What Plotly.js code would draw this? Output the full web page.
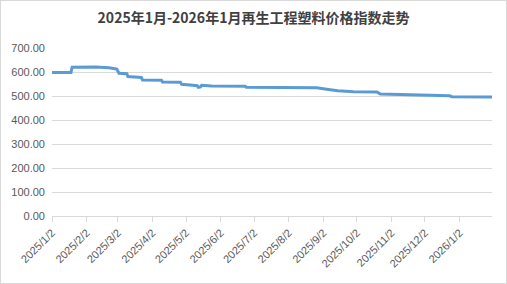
<!DOCTYPE html>
<html>
<head>
<meta charset="utf-8">
<script src="https://cdn.plot.ly/plotly-3.0.1.min.js"></script>
<style>
html,body{margin:0;padding:0;background:#fff;}
#chart{width:507px;height:284px;box-sizing:border-box;border:1px solid #D9D9D9;}
</style>
</head>
<body>
<div id="chart"></div>
<script>
const dates = ['2025-01-02','2025-01-19','2025-01-20','2025-02-10','2025-02-22','2025-02-28','2025-03-01','2025-03-03','2025-03-10','2025-03-11','2025-03-23','2025-03-24','2025-04-10','2025-04-11','2025-04-27','2025-04-28','2025-05-07','2025-05-08','2025-05-12','2025-05-13','2025-05-15','2025-05-16','2025-05-25','2025-06-24','2025-06-25','2025-08-27','2025-09-05','2025-09-15','2025-09-29','2025-10-20','2025-10-23','2025-11-10','2025-11-12','2025-12-24','2025-12-26','2026-01-31'];
const values = [598,598,620,621,618,613,612,595,593,581,577,567,566,558,557,549,548,545,543,536,538,545,542,541,536,534,528,522,518,517,508,506,503,501,497,496];
const tickDates = ['2025-01-02','2025-02-02','2025-03-02','2025-04-02','2025-05-02','2025-06-02','2025-07-02','2025-08-02','2025-09-02','2025-10-02','2025-11-02','2025-12-02','2026-01-02'];
const tickLabels = ['2025/1/2','2025/2/2','2025/3/2','2025/4/2','2025/5/2','2025/6/2','2025/7/2','2025/8/2','2025/9/2','2025/10/2','2025/11/2','2025/12/2','2026/1/2'];
const yTicks = [0,100,200,300,400,500,600,700];
const yLabels = ['0.00','100.00','200.00','300.00','400.00','500.00','600.00','700.00'];

const trace = {
  x: dates, y: values, type: 'scatter', mode: 'lines',
  line: {color: '#5B9BD5', width: 3},
  hoverinfo: 'skip'
};
const layout = {
  width: 505, height: 282,
  margin: {l: 51, r: 14, t: 47, b: 67},
  paper_bgcolor: '#fff', plot_bgcolor: '#fff',
  showlegend: false,
  title: {text: '<b>2025年1月-2026年1月再生工程塑料价格指数走势</b>',
    font: {family: '"Noto Sans CJK SC", "Liberation Sans", sans-serif', size: 14, color: '#404040'},
    x: 0.5, xanchor: 'center', y: 0.94, yanchor: 'middle'},
  xaxis: {
    type: 'date', range: ['2025-01-02', '2026-01-31'],
    tickmode: 'array', tickvals: tickDates, ticktext: tickLabels,
    tickangle: -45, ticks: 'outside', ticklen: 5, tickcolor: '#D9D9D9',
    showline: true, linecolor: '#D9D9D9', linewidth: 1,
    showgrid: false, zeroline: false,
    tickfont: {family: '"Liberation Sans", sans-serif', size: 11, color: '#595959'}
  },
  yaxis: {
    range: [0, 700], tickmode: 'array', tickvals: yTicks, ticktext: yLabels,
    showgrid: true, gridcolor: '#D9D9D9', gridwidth: 1,
    zeroline: false, showline: false, ticks: '',
    ticklabelstandoff: 6,
    tickfont: {family: '"Liberation Sans", sans-serif', size: 11, color: '#595959'}
  }
};
Plotly.newPlot('chart', [trace], layout, {displayModeBar: false, staticPlot: true});
</script>
</body>
</html>
